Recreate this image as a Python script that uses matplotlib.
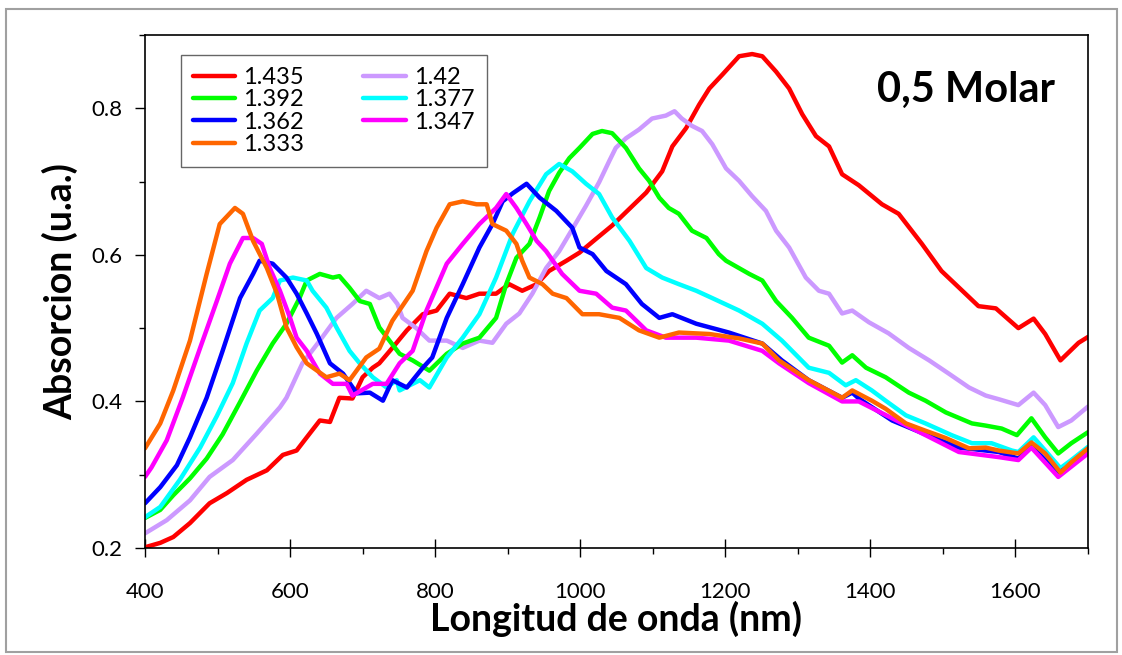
import matplotlib
matplotlib.use("Agg")
import matplotlib.pyplot as plt
from matplotlib.patches import Rectangle
from matplotlib.ticker import MultipleLocator

plt.rcParams["font.family"] = ["Lato", "DejaVu Sans"]

# refractive index of each series (legend labels)
labels = ["1.435", "1.42", "1.392", "1.377", "1.362", "1.347", "1.333"]
colors = ["#FF0000", "#CC99FF", "#00FF00", "#00FFFF", "#0000FF", "#FF00FF", "#FF6600"]

# wavelength (nm) / absorbance
wl_1435 = [400, 421, 439, 462, 489, 513, 540, 568, 590, 609, 623, 641, 655, 668, 686, 700, 714, 723,
           741, 761, 783, 802, 820, 843, 861, 884, 902, 920, 940, 957, 981, 999, 1022, 1044, 1068,
           1091, 1113, 1127, 1146, 1164, 1178, 1196, 1219, 1237, 1251, 1270, 1288, 1306, 1325, 1343,
           1361, 1384, 1416, 1439, 1471, 1498, 1531, 1549, 1573, 1604, 1625, 1641, 1662, 1687, 1700]
ab_1435 = [0.201, 0.207, 0.215, 0.234, 0.261, 0.275, 0.293, 0.306, 0.327, 0.333, 0.351, 0.374, 0.372,
           0.405, 0.404, 0.433, 0.446, 0.452, 0.473, 0.497, 0.519, 0.524, 0.547, 0.541, 0.547, 0.547,
           0.560, 0.551, 0.560, 0.578, 0.592, 0.603, 0.622, 0.640, 0.663, 0.685, 0.714, 0.748, 0.773,
           0.805, 0.827, 0.846, 0.871, 0.874, 0.871, 0.850, 0.827, 0.792, 0.762, 0.748, 0.710, 0.695,
           0.669, 0.656, 0.615, 0.578, 0.547, 0.530, 0.527, 0.500, 0.513, 0.492, 0.456, 0.480, 0.488]

wl_142 = [400, 430, 462, 489, 521, 554, 586, 595, 617, 641, 664, 686, 705, 723, 737, 748, 755, 774, 792,
          816, 838, 861, 879, 898, 916, 934, 953, 971, 989, 1008, 1026, 1040, 1049, 1063, 1081, 1099,
          1118, 1130, 1140, 1154, 1168, 1182, 1201, 1219, 1237, 1256, 1270, 1288, 1311, 1329, 1343,
          1361, 1375, 1398, 1425, 1453, 1481, 1508, 1536, 1559, 1577, 1604, 1625, 1641, 1659, 1677, 1700]
ab_142 = [0.220, 0.238, 0.265, 0.297, 0.320, 0.356, 0.392, 0.405, 0.452, 0.483, 0.514, 0.533, 0.551,
          0.541, 0.547, 0.533, 0.514, 0.500, 0.483, 0.483, 0.473, 0.483, 0.480, 0.506, 0.520, 0.547,
          0.582, 0.605, 0.635, 0.667, 0.699, 0.728, 0.746, 0.759, 0.771, 0.786, 0.790, 0.796, 0.786,
          0.776, 0.769, 0.751, 0.718, 0.701, 0.680, 0.660, 0.633, 0.610, 0.569, 0.551, 0.547, 0.520,
          0.524, 0.508, 0.493, 0.473, 0.456, 0.438, 0.419, 0.408, 0.403, 0.395, 0.412, 0.395, 0.365,
          0.374, 0.393]

wl_1392 = [400, 421, 439, 462, 485, 507, 531, 554, 576, 595, 613, 623, 641, 659, 668, 682, 696, 710, 723,
           737, 751, 769, 792, 816, 838, 861, 884, 898, 912, 930, 944, 957, 971, 985, 999, 1017, 1030,
           1044, 1063, 1081, 1095, 1109, 1122, 1136, 1154, 1174, 1191, 1201, 1233, 1251, 1270, 1292,
           1315, 1343, 1361, 1375, 1394, 1421, 1453, 1476, 1504, 1540, 1559, 1581, 1602, 1622, 1641,
           1659, 1677, 1700]
ab_1392 = [0.241, 0.252, 0.272, 0.295, 0.322, 0.355, 0.399, 0.442, 0.479, 0.506, 0.541, 0.565, 0.574,
           0.569, 0.571, 0.555, 0.537, 0.533, 0.501, 0.483, 0.465, 0.456, 0.442, 0.465, 0.479, 0.487,
           0.514, 0.560, 0.596, 0.615, 0.651, 0.687, 0.712, 0.732, 0.746, 0.765, 0.769, 0.766, 0.746,
           0.718, 0.701, 0.678, 0.664, 0.656, 0.633, 0.623, 0.601, 0.592, 0.574, 0.565, 0.537, 0.514,
           0.487, 0.476, 0.453, 0.463, 0.446, 0.433, 0.412, 0.401, 0.385, 0.370, 0.367, 0.363, 0.354,
           0.377, 0.351, 0.329, 0.343, 0.358]

wl_1377 = [400, 421, 448, 476, 499, 521, 540, 558, 576, 586, 604, 623, 631, 650, 664, 682, 696, 714, 733,
           747, 751, 779, 792, 816, 838, 861, 884, 907, 930, 953, 971, 989, 1008, 1026, 1044, 1068,
           1091, 1113, 1136, 1160, 1182, 1219, 1251, 1278, 1315, 1343, 1366, 1380, 1402, 1421, 1449,
           1476, 1512, 1540, 1567, 1595, 1604, 1625, 1641, 1662, 1677, 1700]
ab_1377 = [0.242, 0.256, 0.293, 0.337, 0.380, 0.425, 0.479, 0.524, 0.541, 0.565, 0.569, 0.565, 0.551,
           0.528, 0.501, 0.469, 0.452, 0.433, 0.419, 0.429, 0.415, 0.429, 0.419, 0.460, 0.487, 0.519,
           0.569, 0.629, 0.673, 0.710, 0.724, 0.714, 0.697, 0.683, 0.651, 0.619, 0.582, 0.569, 0.560,
           0.551, 0.541, 0.524, 0.506, 0.483, 0.446, 0.439, 0.422, 0.429, 0.415, 0.401, 0.381, 0.370,
           0.354, 0.343, 0.343, 0.333, 0.331, 0.351, 0.333, 0.309, 0.320, 0.338]

wl_1362 = [400, 421, 444, 462, 485, 507, 531, 549, 558, 576, 595, 609, 623, 637, 655, 673, 692, 710, 728,
           741, 761, 783, 796, 816, 838, 861, 879, 893, 907, 926, 944, 967, 989, 999, 1017, 1036, 1063,
           1085, 1109, 1127, 1160, 1205, 1251, 1278, 1315, 1361, 1375, 1384, 1430, 1476, 1522, 1577,
           1604, 1622, 1659, 1700]
ab_1362 = [0.261, 0.283, 0.313, 0.351, 0.405, 0.469, 0.541, 0.574, 0.592, 0.588, 0.569, 0.547, 0.520,
           0.492, 0.452, 0.438, 0.411, 0.412, 0.401, 0.429, 0.419, 0.446, 0.460, 0.514, 0.560, 0.610,
           0.642, 0.673, 0.684, 0.697, 0.678, 0.660, 0.637, 0.610, 0.601, 0.578, 0.560, 0.533, 0.514,
           0.519, 0.506, 0.494, 0.479, 0.456, 0.429, 0.405, 0.412, 0.404, 0.374, 0.355, 0.337, 0.331,
           0.322, 0.339, 0.302, 0.330]

wl_1347 = [400, 409, 430, 452, 476, 499, 517, 535, 549, 561, 572, 586, 600, 609, 623, 641, 659, 678, 686,
           714, 733, 751, 769, 788, 816, 838, 861, 884, 898, 912, 926, 940, 953, 975, 999, 1022, 1044,
           1063, 1091, 1118, 1160, 1205, 1251, 1274, 1315, 1361, 1384, 1430, 1476, 1522, 1577, 1604,
           1622, 1659, 1700]
ab_1347 = [0.297, 0.310, 0.347, 0.405, 0.473, 0.537, 0.588, 0.623, 0.623, 0.615, 0.582, 0.551, 0.514,
           0.487, 0.469, 0.438, 0.424, 0.424, 0.408, 0.424, 0.424, 0.452, 0.469, 0.524, 0.588, 0.615,
           0.642, 0.664, 0.683, 0.664, 0.642, 0.619, 0.605, 0.574, 0.551, 0.547, 0.528, 0.524, 0.497,
           0.487, 0.487, 0.483, 0.469, 0.452, 0.425, 0.400, 0.400, 0.377, 0.354, 0.331, 0.324, 0.320,
           0.337, 0.297, 0.329]

wl_1333 = [400, 421, 439, 462, 485, 503, 524, 535, 549, 568, 582, 595, 609, 623, 650, 668, 682, 705, 723,
           741, 769, 788, 802, 820, 838, 857, 871, 879, 898, 912, 920, 930, 948, 962, 981, 1003, 1026,
           1054, 1081, 1109, 1136, 1178, 1219, 1251, 1274, 1315, 1361, 1375, 1402, 1421, 1449, 1476,
           1504, 1536, 1559, 1577, 1604, 1622, 1641, 1662, 1677, 1700]
ab_1333 = [0.336, 0.370, 0.415, 0.483, 0.574, 0.642, 0.664, 0.656, 0.619, 0.582, 0.547, 0.501, 0.474,
           0.452, 0.433, 0.438, 0.429, 0.460, 0.472, 0.510, 0.551, 0.605, 0.637, 0.669, 0.673, 0.669,
           0.669, 0.642, 0.633, 0.615, 0.592, 0.569, 0.560, 0.547, 0.541, 0.519, 0.519, 0.514, 0.497,
           0.487, 0.494, 0.492, 0.486, 0.479, 0.456, 0.429, 0.405, 0.415, 0.401, 0.390, 0.370, 0.360,
           0.350, 0.336, 0.337, 0.333, 0.329, 0.344, 0.329, 0.303, 0.317, 0.336]

series_x = [wl_1435, wl_142, wl_1392, wl_1377, wl_1362, wl_1347, wl_1333]
series_y = [ab_1435, ab_142, ab_1392, ab_1377, ab_1362, ab_1347, ab_1333]

fig = plt.figure(figsize=(11.22, 6.55), dpi=100)
ax = fig.add_axes([145 / 1122, 107 / 655, 943 / 1122, 513 / 655])

lines = {}
for x, y, lab, col in zip(series_x, series_y, labels, colors):
    (ln,) = ax.plot(x, y, color=col, lw=3.2, label=lab, solid_capstyle="round")
    lines[lab] = ln

ax.set_xlim(400, 1700)
ax.set_ylim(0.2, 0.9)
ax.xaxis.set_minor_locator(MultipleLocator(100))
ax.yaxis.set_minor_locator(MultipleLocator(0.1))
ax.set_xticks([400, 600, 800, 1000, 1200, 1400, 1600])
ax.set_yticks([0.2, 0.4, 0.6, 0.8])
ax.set_yticklabels(["0.2", "0.4", "0.6", "0.8"])

ax.tick_params(axis="x", which="major", direction="inout", length=13, width=1, labelsize=16, pad=18)
ax.tick_params(axis="x", which="minor", direction="out", length=4, width=1)
ax.tick_params(axis="y", which="major", direction="out", length=7, width=1, labelsize=16, pad=9)
ax.tick_params(axis="y", which="minor", direction="out", length=4, width=1)
for sp in ax.spines.values():
    sp.set_linewidth(1.2)
    sp.set_color("black")

ax.set_xlabel("Longitud de onda (nm)", fontsize=27, fontweight="bold", labelpad=-1)
ax.set_ylabel("Absorcion (u.a.)", fontsize=27, fontweight="bold", labelpad=10)

ax.text(0.965, 0.893, "0,5 Molar", transform=ax.transAxes, ha="right", va="center",
        fontsize=30, fontweight="bold")

order = ["1.435", "1.392", "1.362", "1.333", "1.42", "1.377", "1.347"]
leg = ax.legend([lines[k] for k in order], order, loc="upper left",
                bbox_to_anchor=(0.038, 0.961), ncol=2, fontsize=17, frameon=True,
                fancybox=False, handlelength=1.8, handletextpad=0.35, columnspacing=2.5,
                labelspacing=0.06, borderpad=0.5, borderaxespad=0)
leg.get_frame().set_edgecolor("#404040")
leg.get_frame().set_linewidth(1.0)

fig.patches.append(Rectangle((6 / 1122, 3 / 655), 1111 / 1122, 643 / 655, transform=fig.transFigure,
                             fill=False, edgecolor="#A0A0A0", lw=1.5))

fig.savefig("out.png", dpi=100)
